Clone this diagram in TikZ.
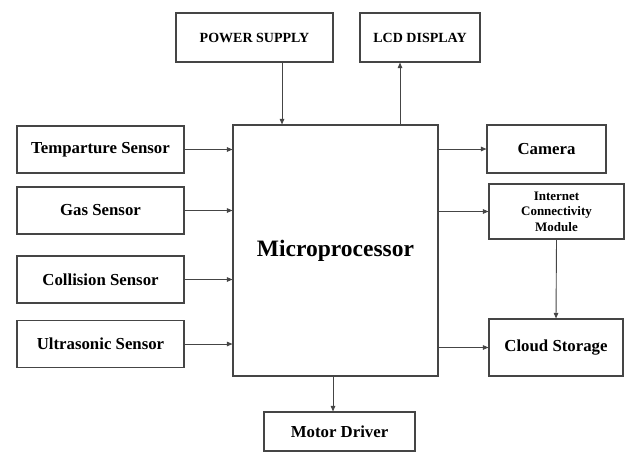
\documentclass[tikz,border=0pt]{standalone}
\usepackage{fontspec}
\setmainfont{Liberation Serif}
\usepackage{tikz}
\usetikzlibrary{
  positioning, calc, arrows.meta, shapes.misc
}
\definecolor{boxgray}{HTML}{454545}
\tikzset{
	blocknode/.style={
			rectangle,
			draw=boxgray,
			line width=1.1pt,
			fill=white,
			inner sep=1pt,
			font=\bfseries\fontsize{16.8}{19}\selectfont
		},
	sensornode/.style={
			blocknode,
			minimum width=167pt,
			minimum height=47pt
		},
	capsnode/.style={
			blocknode,
			minimum height=49pt,
			font=\bfseries\fontsize{14}{16}\selectfont
		},
	mainnode/.style={
			blocknode,
			minimum width=205pt,
			minimum height=251pt,
			font=\bfseries\fontsize{23.5}{27}\selectfont
		},
	arrowline/.style={
			draw=boxgray,
			line width=0.9pt,
			-{Triangle[length=5.5pt,width=4.5pt]}
		}
}

\begin{document}
\begin{tikzpicture}[x=1pt, y=-1pt]
\useasboundingbox (0,0) rectangle (628,452);

\node[mainnode] (mp) at (335.5,250.5) {Microprocessor};

\node[capsnode, minimum width=157pt] (ps) at (254.5,37.5) {POWER SUPPLY};
\node[capsnode, minimum width=120pt] (lcd) at (420,37.5) {LCD DISPLAY};

\node[sensornode] (temp) at (100.5,149.5) {Temparture Sensor};
\node[sensornode] (gas) at (100.5,210.5) {Gas Sensor};
\node[sensornode] (coll) at (100.5,279.5) {Collision Sensor};
\node[sensornode] (ultra) at (100.5,344) {Ultrasonic Sensor};

\node[blocknode, minimum width=119pt, minimum height=48pt] (cam) at (546.5,149) {Camera};
\node[blocknode, minimum width=135pt, minimum height=55pt, align=center,
      font=\bfseries\fontsize{13}{15.5}\selectfont] (inet) at (556.5,211.5)
      {Internet\\Connectivity\\Module};
\node[blocknode, minimum width=134pt, minimum height=57pt] (cloud) at (556,347.5) {Cloud Storage};
\node[blocknode, minimum width=151pt, minimum height=39pt] (motor) at (339.5,431.5) {Motor Driver};

\draw[arrowline] ([xshift=27.5pt]ps.south) -- ([xshift=27.5pt]ps.south |- mp.north);
\draw[arrowline] ([xshift=-20pt]lcd.south |- mp.north) -- ([xshift=-20pt]lcd.south);

\draw[arrowline] (temp.east) -- (temp.east -| mp.west);
\draw[arrowline] (gas.east) -- (gas.east -| mp.west);
\draw[arrowline] (coll.east) -- (coll.east -| mp.west);
\draw[arrowline] (ultra.east) -- (ultra.east -| mp.west);

\draw[arrowline] (cam.west -| mp.east) -- (cam.west);
\draw[arrowline] (inet.west -| mp.east) -- (inet.west);
\draw[arrowline] (cloud.west -| mp.east) -- (cloud.west);
\draw[arrowline] (inet.south) -- (cloud.north);

\draw[arrowline] ([xshift=-6.5pt]motor.north |- mp.south) -- ([xshift=-6.5pt]motor.north);
\end{tikzpicture}
\end{document}
